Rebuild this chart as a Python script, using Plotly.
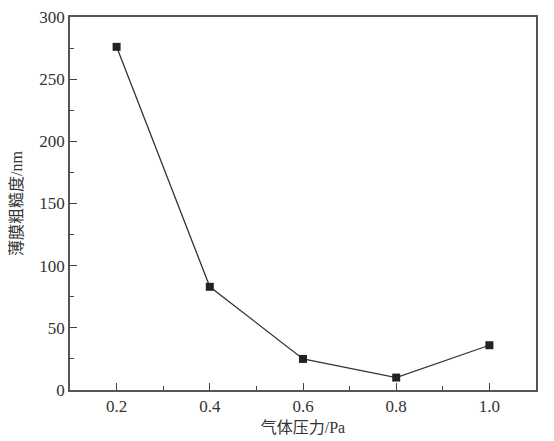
import plotly.graph_objects as go

pressure = [0.2, 0.4, 0.6, 0.8, 1.0]
roughness = [276, 83, 25, 10, 36]

x_ticks = [0.2, 0.4, 0.6, 0.8, 1.0]
x_labels = ['0.2', '0.4', '0.6', '0.8', '1.0']

font_family = 'Liberation Serif, Noto Sans CJK SC'

fig = go.Figure()
fig.add_trace(go.Scatter(
    x=pressure,
    y=roughness,
    mode='lines+markers',
    line=dict(color='#333333', width=1.3),
    marker=dict(symbol='square', size=8, color='#222222'),
    showlegend=False
))
fig.update_layout(
    width=554,
    height=441,
    margin=dict(l=62, r=26, t=9, b=59),
    plot_bgcolor='white',
    paper_bgcolor='white',
    font=dict(family=font_family, size=17, color='#333333'),
    xaxis=dict(
        title=dict(text='气体压力/Pa', standoff=7, font=dict(size=16)),
        automargin=False,
        range=[0.1, 1.1],
        tickvals=x_ticks,
        ticktext=x_labels,
        ticks='inside',
        ticklen=7,
        tickcolor='#444444',
        showline=True,
        linecolor='#555555',
        linewidth=1.5,
        mirror=True,
        showgrid=False,
        zeroline=False,
        ticklabeloverflow='allow',
        minor=dict(ticks='inside', ticklen=4, dtick=0.1, tick0=0.1, tickcolor='#444444'),
    ),
    yaxis=dict(
        title=dict(text='薄膜粗糙度/nm', standoff=13, font=dict(size=16)),
        automargin=False,
        range=[0, 300],
        dtick=50,
        ticks='inside',
        ticklen=7,
        tickcolor='#444444',
        showline=True,
        linecolor='#555555',
        linewidth=1.5,
        mirror=True,
        showgrid=False,
        zeroline=False,
        ticklabeloverflow='allow',
        minor=dict(ticks='inside', ticklen=4, dtick=25, tickcolor='#444444'),
    ),
)
fig.write_html("out.html")
